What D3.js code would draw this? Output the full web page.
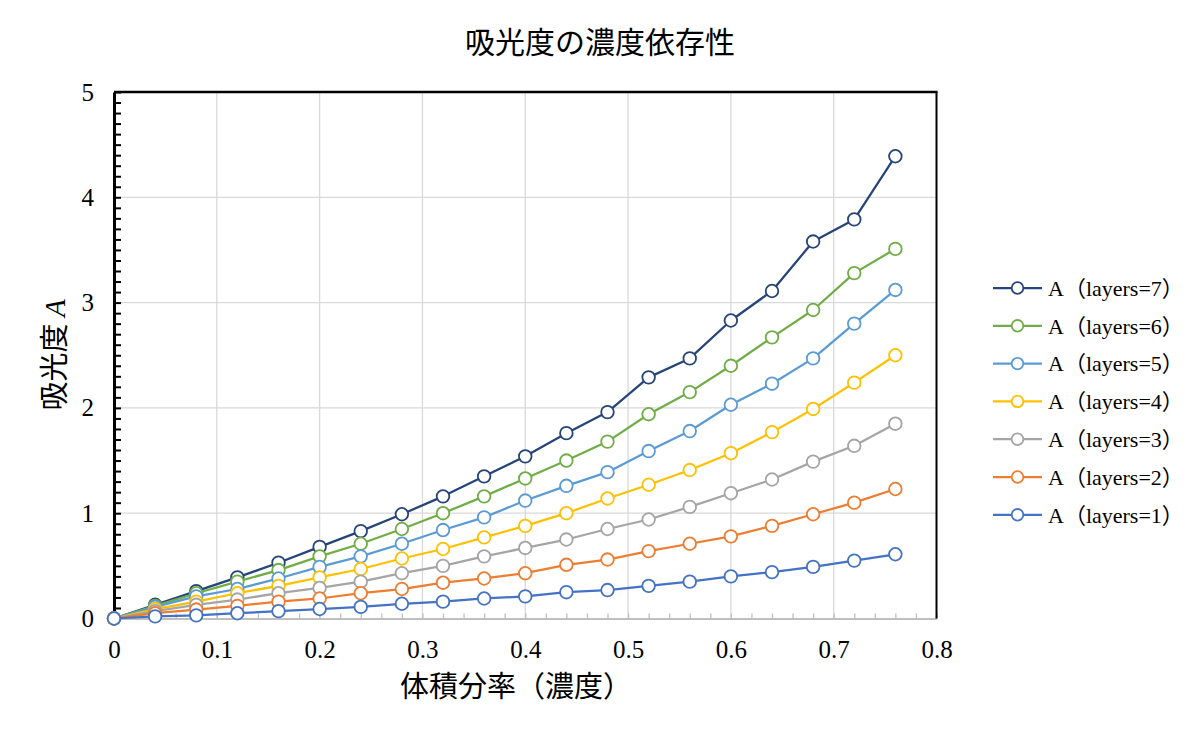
<!DOCTYPE html>
<html>
<head>
<meta charset="utf-8">
<script src="https://cdn.jsdelivr.net/npm/d3@7"></script>
<style>
  body { margin: 0; background: #fff; }
  svg { display: block; }
  text { font-family: "Liberation Serif", "Noto Sans CJK JP", serif; fill: #000; }
</style>
</head>
<body>
<svg width="1200" height="741"></svg>
<script>
// concentration (volume fraction)
const xValues = [0, 0.04, 0.08, 0.12, 0.16, 0.2, 0.24, 0.28, 0.32, 0.36, 0.4,
    0.44, 0.48, 0.52, 0.56, 0.6, 0.64, 0.68, 0.72, 0.76];

// absorbance per layer count
const layers1 = [0, 0.02, 0.03, 0.05, 0.07, 0.09, 0.11, 0.14, 0.16, 0.19, 0.21, 0.25, 0.27, 0.31, 0.35, 0.40, 0.44, 0.49, 0.55, 0.61];
const layers2 = [0, 0.05, 0.085, 0.12, 0.16, 0.19, 0.24, 0.28, 0.34, 0.38, 0.43, 0.51, 0.56, 0.64, 0.71, 0.78, 0.88, 0.99, 1.10, 1.23];
const layers3 = [0, 0.07, 0.13, 0.18, 0.24, 0.29, 0.35, 0.43, 0.50, 0.59, 0.67, 0.75, 0.85, 0.94, 1.06, 1.19, 1.32, 1.49, 1.64, 1.85];
const layers4 = [0, 0.09, 0.16, 0.24, 0.31, 0.39, 0.47, 0.57, 0.66, 0.77, 0.88, 1.00, 1.14, 1.27, 1.41, 1.57, 1.77, 1.99, 2.24, 2.50];
const layers5 = [0, 0.11, 0.21, 0.28, 0.38, 0.49, 0.59, 0.71, 0.84, 0.96, 1.12, 1.26, 1.39, 1.59, 1.78, 2.03, 2.23, 2.47, 2.80, 3.12];
const layers6 = [0, 0.12, 0.24, 0.35, 0.46, 0.59, 0.71, 0.85, 1.00, 1.16, 1.33, 1.50, 1.68, 1.94, 2.15, 2.40, 2.67, 2.93, 3.28, 3.51];
const layers7 = [0, 0.13, 0.26, 0.39, 0.53, 0.68, 0.83, 0.99, 1.16, 1.35, 1.54, 1.76, 1.96, 2.29, 2.47, 2.83, 3.11, 3.58, 3.79, 4.39];

// legend order (top to bottom) = drawing order
const seriesNames = ["A（layers=7）", "A（layers=6）", "A（layers=5）", "A（layers=4）",
    "A（layers=3）", "A（layers=2）", "A（layers=1）"];
const seriesValues = [layers7, layers6, layers5, layers4, layers3, layers2, layers1];
const seriesColors = ["#264478", "#70AD47", "#5B9BD5", "#FFC000", "#A5A5A5", "#ED7D31", "#4472C4"];

const xTicks = [0, 0.1, 0.2, 0.3, 0.4, 0.5, 0.6, 0.7, 0.8];
const yTicks = [0, 1, 2, 3, 4, 5];

const plot = { left: 114, right: 936.5, top: 92, bottom: 618.5 };

const svg = d3.select("svg");

const x = d3.scaleLinear().domain([0, 0.8]).range([plot.left, plot.right]);
const y = d3.scaleLinear().domain([0, 5]).range([plot.bottom, plot.top]);

// grid
svg.append("g")
    .selectAll("line.vgrid")
    .data(xTicks.slice(1, -1))
    .enter()
    .append("line")
    .attr("x1", d => x(d)).attr("x2", d => x(d))
    .attr("y1", plot.top).attr("y2", plot.bottom)
    .attr("stroke", "#d9d9d9")
    .attr("stroke-width", 1.3);

svg.append("g")
    .selectAll("line.hgrid")
    .data(yTicks.slice(1, -1))
    .enter()
    .append("line")
    .attr("x1", plot.left).attr("x2", plot.right)
    .attr("y1", d => y(d)).attr("y2", d => y(d))
    .attr("stroke", "#d9d9d9")
    .attr("stroke-width", 1.3);

// bottom axis: gray line with small inner ticks every 0.02
const xMinor = d3.range(0, 41).map(i => i * 0.02);
const xMinorAxis = svg.append("g")
    .attr("transform", "translate(0," + plot.bottom + ")")
    .call(d3.axisTop(x).tickValues(xMinor).tickSize(5).tickFormat("").tickSizeOuter(0));
xMinorAxis.select(".domain").attr("stroke", "#bfbfbf").attr("stroke-width", 2);
xMinorAxis.selectAll(".tick line").attr("stroke", "#bfbfbf").attr("stroke-width", 1.3);

// x labels
const xLabelAxis = svg.append("g")
    .attr("transform", "translate(0," + plot.bottom + ")")
    .call(d3.axisBottom(x).tickValues(xTicks).tickSize(0).tickPadding(22)
        .tickFormat(d => d === 0 ? "0" : d3.format(".1f")(d)));
xLabelAxis.select(".domain").remove();
xLabelAxis.selectAll("text").style("font-size", "25px").style("font-family", "Liberation Serif");

// frame: top and right in black
svg.append("line")
    .attr("x1", plot.left).attr("x2", plot.right + 1)
    .attr("y1", plot.top).attr("y2", plot.top)
    .attr("stroke", "#000").attr("stroke-width", 2.5);
svg.append("line")
    .attr("x1", plot.right).attr("x2", plot.right)
    .attr("y1", plot.top).attr("y2", plot.bottom)
    .attr("stroke", "#000").attr("stroke-width", 2);

// left axis: black with inner ticks every 0.1
const yMinor = d3.range(0, 51).map(i => i * 0.1);
const yMinorAxis = svg.append("g")
    .attr("transform", "translate(" + plot.left + ",0)")
    .call(d3.axisRight(y).tickValues(yMinor).tickSize(7).tickFormat("").tickSizeOuter(0));
yMinorAxis.select(".domain").attr("stroke", "#000").attr("stroke-width", 3);
yMinorAxis.selectAll(".tick line").attr("stroke", "#000").attr("stroke-width", 2);

const yLabelAxis = svg.append("g")
    .attr("transform", "translate(" + plot.left + ",0)")
    .call(d3.axisLeft(y).tickValues(yTicks).tickSize(0).tickPadding(20).tickFormat(d3.format("d")));
yLabelAxis.select(".domain").remove();
yLabelAxis.selectAll("text").style("font-size", "25px").style("font-family", "Liberation Serif");

// series
const line = d3.line()
    .x((d, i) => x(xValues[i]))
    .y(d => y(d));

seriesValues.forEach((values, k) => {
    const g = svg.append("g");
    g.append("path")
        .datum(values)
        .attr("d", line)
        .attr("fill", "none")
        .attr("stroke", seriesColors[k])
        .attr("stroke-width", 2.25)
        .attr("stroke-linejoin", "round");
    g.selectAll("circle")
        .data(values)
        .enter()
        .append("circle")
        .attr("cx", (d, i) => x(xValues[i]))
        .attr("cy", d => y(d))
        .attr("r", 6.3)
        .attr("fill", "#fff")
        .attr("stroke", seriesColors[k])
        .attr("stroke-width", 1.8);
});

// title
svg.append("text")
    .attr("x", 600)
    .attr("y", 53)
    .attr("text-anchor", "middle")
    .style("font-family", "Noto Sans CJK JP")
    .style("font-size", "30px")
    .text("吸光度の濃度依存性");

// axis titles
svg.append("text")
    .attr("x", 516)
    .attr("y", 697)
    .attr("text-anchor", "middle")
    .style("font-family", "Noto Sans CJK JP")
    .style("font-size", "29px")
    .text("体積分率（濃度）");

const yTitle = svg.append("text")
    .attr("transform", "translate(65,355) rotate(-90)")
    .attr("text-anchor", "middle")
    .style("font-size", "29px");
yTitle.append("tspan").style("font-family", "Noto Sans CJK JP").text("吸光度 ");
yTitle.append("tspan").style("font-family", "Liberation Serif").style("font-style", "italic").text("A");

// legend
const legend = svg.append("g").attr("transform", "translate(993,288)");
seriesNames.forEach((name, k) => {
    const row = legend.append("g").attr("transform", "translate(0," + (k * 37.8) + ")");
    row.append("line")
        .attr("x1", 0).attr("x2", 49)
        .attr("stroke", seriesColors[k])
        .attr("stroke-width", 2.25);
    row.append("circle")
        .attr("cx", 24.5).attr("r", 5.8)
        .attr("fill", "#fff")
        .attr("stroke", seriesColors[k])
        .attr("stroke-width", 1.8);
    row.append("text")
        .attr("x", 55)
        .attr("dy", "0.35em")
        .style("font-size", "22px")
        .text(name);
});
</script>
</body>
</html>
